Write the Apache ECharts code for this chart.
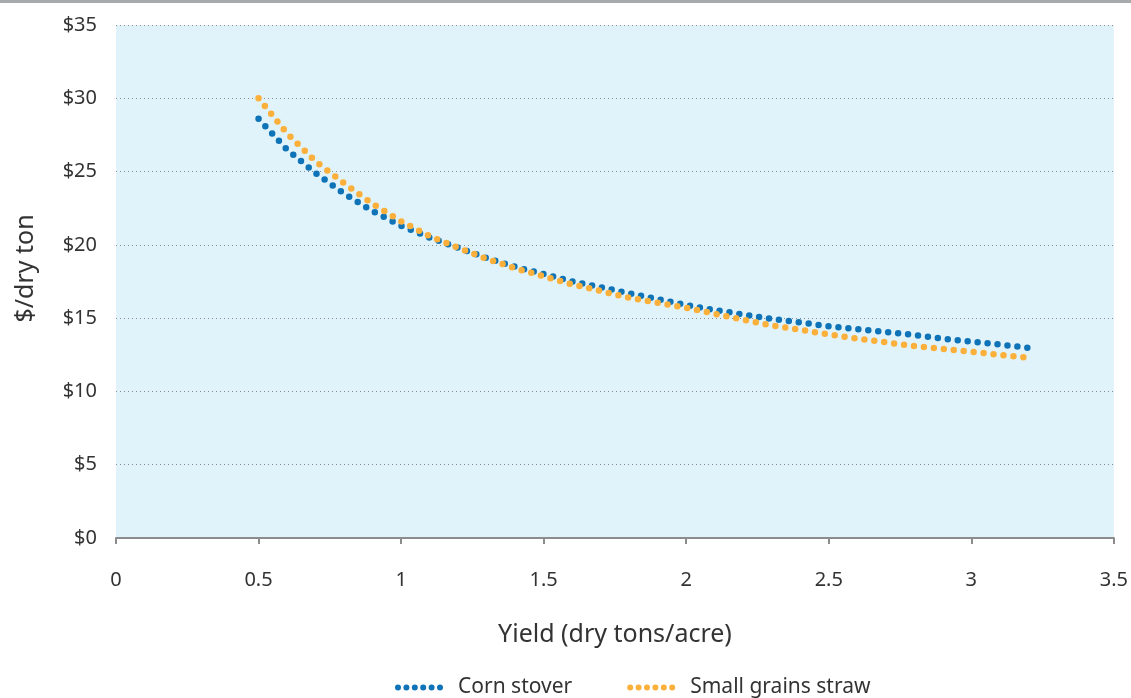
<!DOCTYPE html>
<html>
<head>
<meta charset="utf-8">
<script src="https://cdn.jsdelivr.net/npm/echarts@6/dist/echarts.min.js"></script>
<style>
  html, body { margin: 0; padding: 0; background: #fff; }
  #container1 { width: 1131px; height: 698px; }
</style>
</head>
<body>
<div id="container1"></div>
<script>
var yieldValues = [0.5, 0.6, 0.7, 0.8, 0.9, 1.0, 1.1, 1.2, 1.3, 1.4, 1.5, 1.6, 1.7, 1.8, 1.9,
    2.0, 2.1, 2.2, 2.3, 2.4, 2.5, 2.6, 2.7, 2.8, 2.9, 3.0, 3.1, 3.2];
var cornStover = [28.6, 26.5, 24.9, 23.5, 22.3, 21.3, 20.5, 19.8, 19.1, 18.5, 18.0, 17.5, 17.1, 16.7, 16.3,
    15.9, 15.55, 15.25, 14.95, 14.7, 14.45, 14.25, 14.05, 13.85, 13.6, 13.4, 13.2, 12.98];
var smallGrains = [30.0, 27.6, 25.7, 24.2, 22.8, 21.6, 20.6, 19.8, 19.05, 18.4, 17.85, 17.3, 16.85, 16.4, 16.05,
    15.7, 15.3, 14.9, 14.5, 14.2, 13.9, 13.6, 13.35, 13.1, 12.9, 12.7, 12.5, 12.3];
var seriesNames = ['Corn stover', 'Small grains straw'];

(function container1() {
    var dom = document.getElementById("container1");
    var chart = echarts.init(dom);
    var font = '"Noto Sans", "Open Sans", sans-serif';

    function pairs(ys) {
        return yieldValues.map(function (x, i) { return [x, ys[i]]; });
    }

    function dotted(color) {
        return {
            color: color,
            width: 6.5,
            type: [0, 10],
            cap: 'round'
        };
    }

    // legend glyph: a row of six dots
    var dotIcon = 'path://';
    for (var i = 0; i < 6; i++) {
        var cx = 3 + i * 8.4;
        dotIcon += 'M' + (cx - 3) + ',3a3,3 0 1,0 6,0a3,3 0 1,0 -6,0';
    }

    var option = {
        backgroundColor: '#ffffff',
        animation: false,
        graphic: [{
            type: 'rect',
            left: 0,
            top: 0,
            shape: { width: 1131, height: 3 },
            style: { fill: '#a7a9ac' }
        }],
        grid: {
            left: 116,
            right: 14,
            top: 25,
            bottom: 160,
            show: true,
            backgroundColor: '#e1f3fa',
            borderWidth: 0
        },
        legend: {
            top: 672,
            left: 390,
            icon: dotIcon,
            itemWidth: 48,
            itemHeight: 6,
            itemGap: 55,
            textStyle: { fontFamily: font, fontSize: 21, color: '#333', padding: [0, 0, 0, 10] },
            data: seriesNames
        },
        xAxis: {
            type: 'value',
            min: 0,
            max: 3.5,
            interval: 0.5,
            name: 'Yield (dry tons/acre)',
            nameLocation: 'middle',
            nameGap: 84,
            nameTextStyle: { fontFamily: font, fontSize: 25, color: '#333' },
            axisLine: { lineStyle: { color: '#8c8c8c', width: 2 } },
            axisTick: { show: true, length: 6, lineStyle: { color: '#8c8c8c', width: 2 } },
            axisLabel: { margin: 32, fontFamily: font, fontSize: 20, color: '#333' },
            splitLine: { show: false }
        },
        yAxis: {
            type: 'value',
            min: 0,
            max: 35,
            interval: 5,
            name: '$/dry ton',
            nameLocation: 'middle',
            nameGap: 78,
            nameTextStyle: { fontFamily: font, fontSize: 25, color: '#333', padding: [0, 0, 0, 26] },
            axisLine: { show: false },
            axisTick: { show: false },
            axisLabel: { margin: 19, fontFamily: font, fontSize: 20, color: '#333', formatter: '${value}' },
            splitLine: { lineStyle: { color: '#8a8a8a', type: [1, 3], width: 1 } }
        },
        series: [{
            name: seriesNames[0],
            type: 'line',
            symbol: 'none',
            lineStyle: dotted('#0f73b8'),
            itemStyle: { color: '#0f73b8' },
            data: pairs(cornStover)
        }, {
            name: seriesNames[1],
            type: 'line',
            symbol: 'none',
            lineStyle: dotted('#fbb03b'),
            itemStyle: { color: '#fbb03b' },
            data: pairs(smallGrains)
        }]
    };

    if (option && typeof option === "object") {
        chart.setOption(option, true);
    }
})();
</script>
</body>
</html>
